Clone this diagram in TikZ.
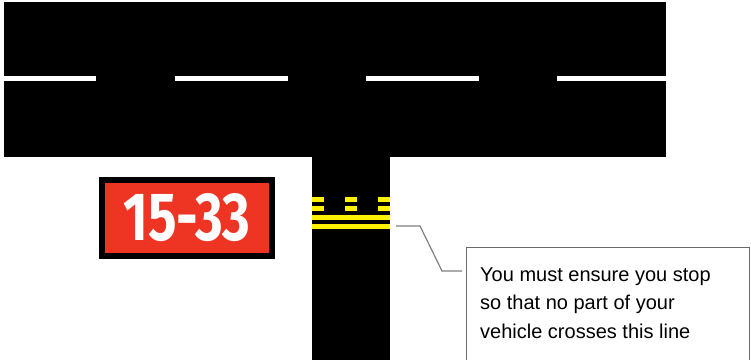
\documentclass[tikz,border=0pt]{standalone}
\usepackage{fontspec}
\setmainfont{Liberation Sans}
\newfontfamily\signfont{Fira Sans}
\definecolor{signred}{HTML}{EE3524}
\definecolor{markyellow}{HTML}{FFF200}
\definecolor{leadgray}{HTML}{808080}
\definecolor{boxgray}{HTML}{6A6A6A}
\begin{document}
\begin{tikzpicture}[x=1pt,y=-1pt,
  pave/.style={fill=black,draw=none},
  whitedash/.style={fill=white,draw=none},
  yellowmark/.style={fill=markyellow,draw=none},
  leader/.style={draw=leadgray,line width=1.2pt},
  calloutbox/.style={draw=boxgray,line width=0.9pt,fill=white,rectangle,inner sep=0pt,anchor=north west,minimum width=283pt,minimum height=125pt}]
\useasboundingbox (0,0) rectangle (751,359);
\clip (0,0) rectangle (751,359);
% runway
\fill[pave] (4,2) rectangle (666,157);
\foreach \a/\b in {4/96,175/288,366/479,557/666}
  \fill[whitedash] (\a,76) rectangle (\b,80.5);
% taxiway
\fill[pave] (312,156) rectangle (390,360);
% holding position markings
\foreach \a/\b in {312/324,345/357,378/390}{
  \fill[yellowmark] (\a,197) rectangle (\b,202);
  \fill[yellowmark] (\a,205.5) rectangle (\b,210.5);}
\fill[yellowmark] (312,215) rectangle (390,220);
\fill[yellowmark] (312,223.5) rectangle (390,228.5);
% sign
\node[draw=black,line width=6pt,fill=signred,minimum width=170pt,minimum height=76pt,inner sep=0pt] (sign) at (187,218) {};
\node[text=white,inner sep=0pt] (signtext) at (sign.center) {\resizebox{127pt}{47pt}{\signfont\bfseries 15-33}};
% callout
\node[calloutbox] (callout) at (466,247) {};
\node[anchor=base west,align=left,inner sep=0pt,font=\fontsize{20pt}{28.5pt}\selectfont] (msg) at (480,338) {You must ensure you stop\\so that no part of your\\vehicle crosses this line};
\coordinate (lstart) at (396,226);
\coordinate (lend) at ([xshift=-4pt]callout.west |- 0,271);
\draw[leader] (lstart) -- (420,226) -- (442,271) -- (lend);
\end{tikzpicture}
\end{document}
